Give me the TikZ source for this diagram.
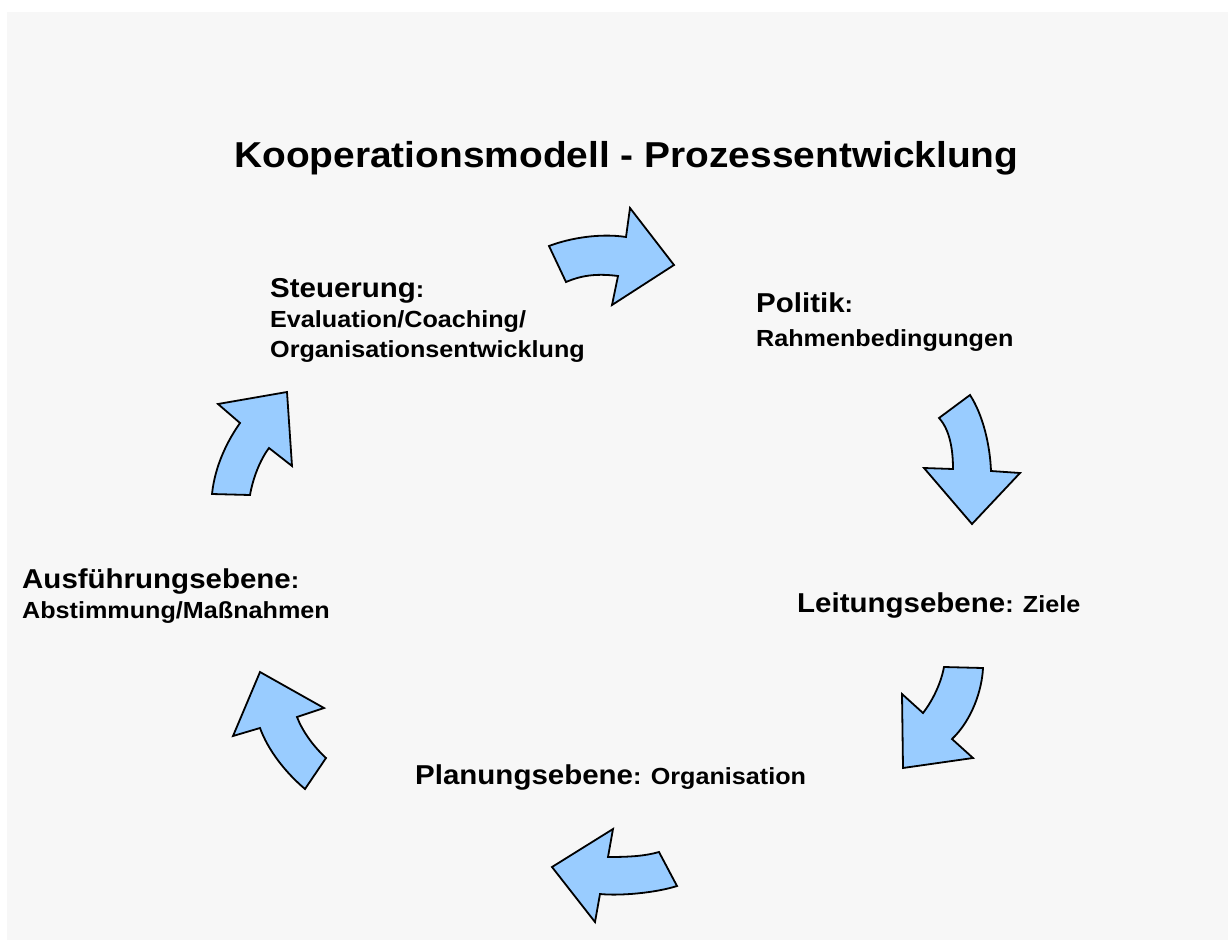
\documentclass[tikz,border=0pt]{standalone}
\usepackage{fontspec}
\setmainfont{Liberation Sans}[FakeStretch=1.08]
\definecolor{bgray}{HTML}{F7F7F7}
\definecolor{ablue}{HTML}{99CCFF}
\begin{document}
\begin{tikzpicture}[x=1pt,y=-1pt,
  bigl/.style={anchor=base west,inner sep=0pt,font=\bfseries\fontsize{27.3}{32}\selectfont},
  subl/.style={anchor=base west,inner sep=0pt,font=\bfseries\fontsize{23.3}{28}\selectfont},
  titl/.style={anchor=base west,inner sep=0pt,font=\bfseries\fontsize{36}{42}\selectfont},
  carrow/.style={fill=ablue,draw=black,line width=1.8pt,line join=miter}]
\useasboundingbox (0,0) rectangle (1228,940);
\fill[white] (0,0) rectangle (1228,940);
\fill[bgray] (7,12) rectangle (1228,940);
\newcommand{\sm}[1]{{\fontsize{23.3}{28}\selectfont #1}}
% title
\node[titl] (title) at (234,167) {Kooperationsmodell - Prozessentwicklung};
% labels
\node[bigl] (steu) at (270,297) {Steuerung\sm{:}};
\node[subl] (steu2) at (270,327) {Evaluation/Coaching/};
\node[subl] (steu3) at (270,357) {Organisationsentwicklung};
\node[bigl] (pol) at (756,312) {Politik\sm{:}};
\node[subl] (pol2) at (756,346) {Rahmenbedingungen};
\node[bigl] (leit) at (797,612) {Leitungsebene\sm{: Ziele}};
\node[bigl] (ausf) at (22,588) {Ausführungsebene\sm{:}};
\node[subl] (ausf2) at (22,618) {Abstimmung/Maßnahmen};
\node[bigl] (plan) at (415,784) {Planungsebene\sm{: Organisation}};
% curved arrows
\draw[carrow] (549,246) .. controls (570,238) and (600,233) .. (626,237)
  -- (630,208) -- (674,265) -- (612,305) -- (618,276)
  .. controls (595,273) and (580,276) .. (566,282) -- cycle;
\draw[carrow] (970,395) .. controls (983,415) and (990,445) .. (991,471)
  -- (1020,473) -- (972,524) -- (924,468) -- (953,469)
  .. controls (953,450) and (950,430) .. (939,418) -- cycle;
\draw[carrow] (944,667) -- (983,668) .. controls (982,690) and (972,720) .. (952,739)
  -- (973,758) -- (903,768) -- (902,694) -- (923,713)
  .. controls (933,700) and (941,683) .. (944,667) -- cycle;
\draw[carrow] (608,857) .. controls (630,857) and (645,856) .. (659,852)
  -- (677,886) .. controls (655,893) and (620,896) .. (600,894)
  -- (595,922) -- (552,867) -- (613,829) -- cycle;
\draw[carrow] (305,789) -- (326,758) .. controls (312,745) and (302,730) .. (297,717)
  -- (324,708) -- (260,672) -- (233,736) -- (260,728)
  .. controls (268,750) and (285,772) .. (305,789) -- cycle;
\draw[carrow] (212,494) -- (250,495) .. controls (253,478) and (260,460) .. (269,448)
  -- (292,466) -- (287,392) -- (218,404) -- (240,423)
  .. controls (228,440) and (215,465) .. (212,494) -- cycle;
\end{tikzpicture}
\end{document}
